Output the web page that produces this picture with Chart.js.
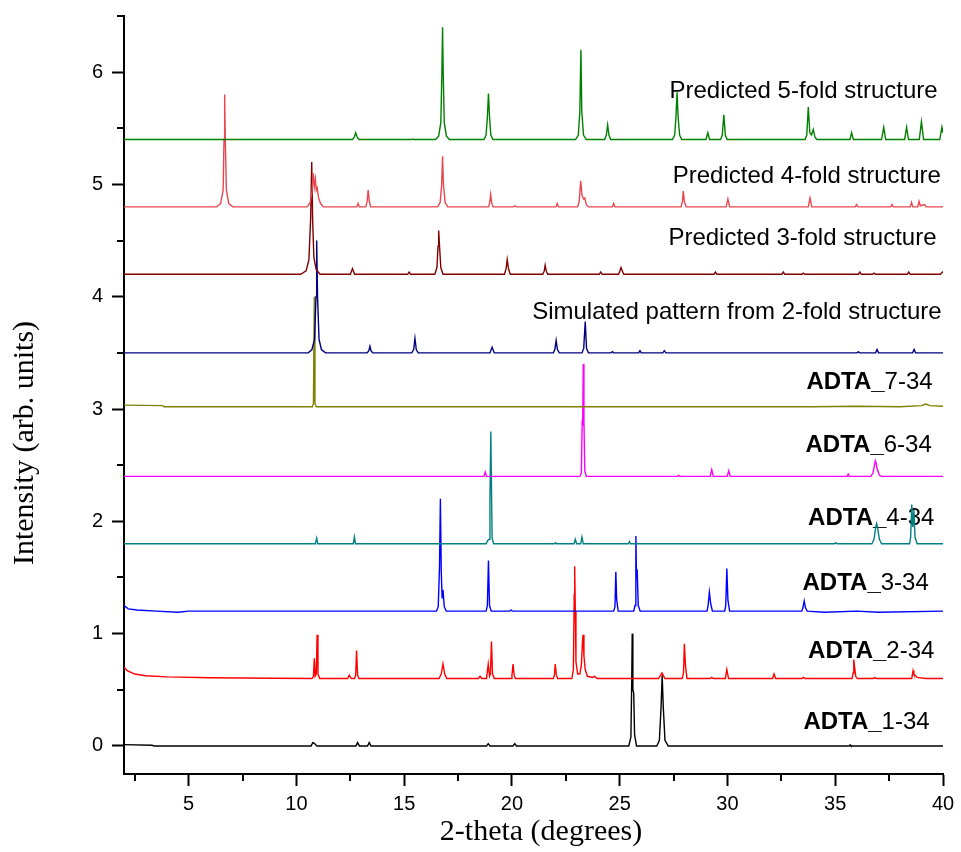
<!DOCTYPE html>
<html>
<head>
<meta charset="utf-8">
<script src="https://cdn.jsdelivr.net/npm/chart.js@4.4.1/dist/chart.umd.min.js"></script>
<style>
  html, body { margin: 0; padding: 0; background: #fff; }
  canvas { display: block; }
</style>
</head>
<body>
<canvas id="xrd" width="961" height="852"></canvas>
<script>
// XRD patterns, stacked with vertical offsets. Each trace is a list of [2-theta, intensity] vertices.
const adta1_34 = [[2,0.012],[3.3,0.006],[3.4,0],[10.68,0],[10.76,0.03],[10.82,0.025],[10.95,0],[12.76,0],[12.84,0.03],[12.92,0],[13.3,0],[13.38,0.03],[13.46,0],[18.82,0],[18.9,0.02],[18.98,0],[20.05,0],[20.13,0.02],[20.21,0],
  [25.42,0],[25.52,0.08],[25.56,0.6],[25.58,1.0],[25.61,0.5],[25.65,0.47],[25.69,0.1],[25.78,0],
  [26.72,0],[26.84,0.05],[26.92,0.35],[26.97,0.63],[27.02,0.35],[27.1,0.05],[27.25,0],[35.65,0],[35.69,0.01],[35.73,0],[40,0]];

const adta2_34 = [[2,0.7],[2.15,0.67],[2.5,0.64],[3,0.625],[4,0.615],[6,0.607],[9,0.603],
  [10.72,0.6],[10.79,0.62],[10.83,0.78],[10.87,0.62],[10.92,0.64],[10.96,0.99],[11.0,0.64],[11.08,0.6],
  [12.38,0.6],[12.45,0.63],[12.55,0.6],[12.7,0.6],[12.75,0.63],[12.79,0.85],[12.84,0.63],[12.9,0.6],
  [16.62,0.6],[16.72,0.64],[16.8,0.73],[16.88,0.64],[16.98,0.6],
  [18.45,0.6],[18.52,0.62],[18.6,0.6],[18.82,0.6],[18.9,0.73],[18.96,0.62],[19.0,0.64],[19.05,0.93],[19.1,0.64],[19.18,0.6],
  [19.96,0.6],[20.0,0.63],[20.05,0.73],[20.1,0.63],[20.16,0.6],
  [21.92,0.6],[21.97,0.63],[22.01,0.73],[22.06,0.63],[22.12,0.6],
  [22.78,0.6],[22.85,0.68],[22.89,1.35],[22.91,1.6],[22.94,1.2],[22.97,0.75],[23.05,0.64],
  [23.15,0.64],[23.22,0.72],[23.28,0.95],[23.3,0.99],[23.34,0.8],[23.4,0.68],[23.5,0.62],
  [23.75,0.61],[23.84,0.62],[23.95,0.6],[26.8,0.6],[26.96,0.65],[27.1,0.6],
  [27.9,0.6],[27.96,0.65],[28.0,0.91],[28.05,0.72],[28.12,0.6],[29.2,0.6],[29.27,0.61],[29.34,0.6],
  [29.9,0.6],[29.97,0.68],[30.05,0.6],[32.1,0.6],[32.16,0.64],[32.24,0.6],[33.45,0.6],[33.52,0.61],[33.6,0.6],
  [35.78,0.6],[35.83,0.65],[35.86,0.77],[35.9,0.7],[35.95,0.62],[36.02,0.6],[36.78,0.6],[36.83,0.61],[36.9,0.6],
  [38.55,0.6],[38.61,0.67],[38.65,0.64],[38.8,0.61],[39.2,0.6],[40,0.6]];

const adta3_34 = [[2,1.25],[2.2,1.22],[2.6,1.21],[3.5,1.2],[4.5,1.19],[5,1.2],
  [16.5,1.2],[16.58,1.24],[16.64,1.6],[16.68,2.2],[16.72,1.55],[16.76,1.32],[16.8,1.39],[16.86,1.24],[16.95,1.2],
  [18.8,1.2],[18.86,1.25],[18.91,1.65],[18.96,1.25],[19.04,1.2],[19.9,1.2],[19.96,1.21],[20.02,1.2],
  [24.72,1.2],[24.78,1.24],[24.82,1.55],[24.86,1.3],[24.93,1.2],
  [25.65,1.2],[25.71,1.25],[25.75,1.87],[25.78,1.5],[25.81,1.57],[25.86,1.25],[25.95,1.2],
  [29.05,1.2],[29.1,1.25],[29.16,1.37],[29.22,1.27],[29.3,1.2],
  [29.87,1.2],[29.92,1.25],[29.97,1.58],[30.02,1.3],[30.1,1.2],
  [33.45,1.2],[33.5,1.23],[33.56,1.29],[33.62,1.23],[33.7,1.2],[34.5,1.19],[36,1.2],[37,1.19],[40,1.2]];

const adta4_34 = [[2,1.8],[10.88,1.8],[10.94,1.85],[10.99,1.8],[12.64,1.8],[12.69,1.86],[12.74,1.8],
  [18.8,1.8],[18.88,1.83],[18.94,1.84],[18.98,2.2],[19.02,2.8],[19.05,2.3],[19.08,1.85],[19.15,1.8],
  [21.97,1.8],[22.02,1.81],[22.07,1.8],[22.88,1.8],[22.94,1.84],[23.0,1.8],[23.19,1.8],[23.25,1.86],[23.31,1.8],
  [25.4,1.8],[25.45,1.82],[25.5,1.8],[34.96,1.8],[35.02,1.81],[35.08,1.8],
  [36.7,1.8],[36.8,1.84],[36.88,1.95],[36.92,1.98],[36.96,1.95],[37.05,1.84],[37.15,1.8],
  [38.45,1.8],[38.5,1.86],[38.55,2.15],[38.6,1.95],[38.65,2.1],[38.7,1.86],[38.8,1.8],[40,1.8]];

const adta6_34 = [[2,2.4],[18.7,2.4],[18.76,2.44],[18.82,2.4],
  [23.15,2.4],[23.22,2.43],[23.26,2.9],[23.28,2.85],[23.31,3.4],[23.34,2.9],[23.38,2.45],[23.45,2.4],
  [27.68,2.4],[27.73,2.41],[27.78,2.4],[29.2,2.4],[29.27,2.46],[29.34,2.4],[29.99,2.4],[30.06,2.45],[30.13,2.4],
  [35.55,2.4],[35.6,2.42],[35.65,2.4],
  [36.65,2.4],[36.75,2.43],[36.82,2.5],[36.86,2.54],[36.9,2.52],[36.94,2.47],[37.05,2.41],[37.15,2.4],[40,2.4]];

const adta7_34 = [[2,3.035],[3.8,3.03],[3.86,3.02],
  [10.74,3.02],[10.79,3.05],[10.83,4.0],[10.86,3.05],[10.92,3.02],
  [34,3.02],[36,3.025],[38,3.02],[39.0,3.03],[39.2,3.045],[39.4,3.03],[40,3.025]];

const sim2fold = [[2,3.5],
  [10.55,3.5],[10.72,3.53],[10.84,3.62],[10.91,4.0],[10.94,4.5],[10.98,4.0],[11.05,3.62],[11.16,3.53],[11.35,3.5],
  [13.28,3.5],[13.36,3.52],[13.41,3.56],[13.46,3.52],[13.54,3.5],
  [15.35,3.5],[15.44,3.53],[15.5,3.63],[15.56,3.53],[15.65,3.5],
  [18.98,3.5],[19.08,3.55],[19.18,3.5],[21.92,3.5],[21.99,3.53],[22.05,3.61],[22.11,3.53],[22.2,3.5],
  [23.25,3.5],[23.33,3.54],[23.4,3.78],[23.46,3.54],[23.55,3.5],
  [24.6,3.5],[24.66,3.51],[24.72,3.5],[25.88,3.5],[25.94,3.52],[26.0,3.5],[27.0,3.5],[27.07,3.52],[27.14,3.5],
  [36.0,3.5],[36.07,3.51],[36.14,3.5],[36.87,3.5],[36.94,3.53],[37.01,3.5],[38.59,3.5],[38.66,3.53],[38.73,3.5],[40,3.5]];

const pred3fold = [[2,4.2],
  [10.2,4.2],[10.45,4.23],[10.58,4.33],[10.66,4.7],[10.71,5.2],[10.75,4.7],[10.81,4.35],[10.92,4.24],[11.1,4.2],
  [12.5,4.2],[12.6,4.25],[12.7,4.2],[15.16,4.2],[15.23,4.22],[15.3,4.2],
  [16.42,4.2],[16.52,4.26],[16.57,4.45],[16.6,4.59],[16.64,4.45],[16.7,4.26],[16.8,4.2],
  [19.65,4.2],[19.73,4.25],[19.78,4.33],[19.84,4.25],[19.92,4.2],
  [21.43,4.2],[21.5,4.23],[21.54,4.28],[21.59,4.23],[21.66,4.2],
  [24.05,4.2],[24.12,4.22],[24.19,4.2],[24.95,4.2],[25.01,4.23],[25.06,4.26],[25.12,4.23],[25.19,4.2],
  [29.37,4.2],[29.44,4.22],[29.51,4.2],[32.52,4.2],[32.59,4.22],[32.66,4.2],[33.45,4.2],[33.52,4.21],[33.59,4.2],
  [36.07,4.2],[36.14,4.22],[36.21,4.2],[36.73,4.2],[36.8,4.21],[36.87,4.2],[38.34,4.2],[38.41,4.22],[38.48,4.2],
  [39.88,4.2],[40,4.225]];

const pred4fold = [[2,4.8],
  [6.3,4.8],[6.48,4.83],[6.6,4.95],[6.64,5.4],[6.67,5.8],[6.7,5.4],[6.75,4.95],[6.86,4.83],[7.05,4.8],
  [10.5,4.8],[10.64,4.84],[10.73,4.95],[10.78,5.1],[10.83,4.98],[10.88,5.05],[10.92,4.95],[10.96,4.97],[11.03,4.88],[11.12,4.83],[11.25,4.8],
  [12.8,4.8],[12.86,4.83],[12.92,4.8],[13.22,4.8],[13.28,4.85],[13.33,4.95],[13.38,4.85],[13.45,4.8],
  [16.55,4.8],[16.67,4.84],[16.74,5.0],[16.78,5.25],[16.82,5.0],[16.9,4.84],[17.02,4.8],
  [18.92,4.8],[18.97,4.84],[19.01,4.91],[19.06,4.84],[19.12,4.8],[20.08,4.8],[20.14,4.81],[20.2,4.8],
  [22.04,4.8],[22.1,4.83],[22.16,4.8],
  [23.05,4.8],[23.12,4.85],[23.19,5.03],[23.25,4.9],[23.33,4.87],[23.38,4.88],[23.45,4.82],[23.55,4.8],
  [24.66,4.8],[24.72,4.83],[24.78,4.8],[27.85,4.8],[27.91,4.85],[27.95,4.94],[28.0,4.85],[28.08,4.8],
  [29.94,4.8],[30.02,4.87],[30.1,4.8],[33.75,4.8],[33.83,4.88],[33.91,4.8],
  [35.93,4.8],[35.99,4.82],[36.05,4.8],[37.58,4.8],[37.64,4.82],[37.7,4.8],[38.48,4.8],[38.54,4.84],[38.6,4.8],
  [38.83,4.8],[38.89,4.85],[38.95,4.81],[39.15,4.82],[39.22,4.8],[40,4.8]];

const pred5fold = [[2,5.4],
  [12.6,5.4],[12.68,5.42],[12.75,5.46],[12.82,5.42],[12.9,5.4],[15.35,5.4],[15.4,5.405],[15.45,5.4],
  [16.45,5.4],[16.6,5.43],[16.7,5.55],[16.75,6.0],[16.78,6.4],[16.81,6.0],[16.86,5.55],[16.96,5.43],[17.1,5.4],
  [18.7,5.4],[18.8,5.44],[18.86,5.6],[18.91,5.81],[18.96,5.6],[19.02,5.44],[19.12,5.4],
  [22.95,5.4],[23.08,5.44],[23.15,5.65],[23.2,6.2],[23.24,5.65],[23.32,5.44],[23.45,5.4],
  [24.3,5.4],[24.38,5.44],[24.44,5.53],[24.5,5.44],[24.58,5.4],
  [27.45,5.4],[27.55,5.44],[27.61,5.6],[27.66,5.82],[27.71,5.6],[27.78,5.44],[27.88,5.4],
  [29.0,5.4],[29.09,5.46],[29.17,5.4],[29.68,5.4],[29.76,5.44],[29.83,5.62],[29.9,5.44],[29.98,5.4],
  [33.6,5.4],[33.68,5.44],[33.75,5.69],[33.82,5.46],[33.9,5.44],[33.98,5.49],[34.06,5.42],[34.15,5.4],
  [35.68,5.4],[35.76,5.46],[35.84,5.4],[37.15,5.4],[37.25,5.51],[37.34,5.4],[38.22,5.4],[38.31,5.51],[38.4,5.4],
  [38.9,5.4],[39.0,5.56],[39.1,5.4],[39.85,5.4],[39.95,5.51],[40,5.46]];

const traceLabels = ['ADTA_1-34', 'ADTA_2-34', 'ADTA_3-34', 'ADTA_4-34', 'ADTA_6-34', 'ADTA_7-34',
  'Simulated pattern from 2-fold structure', 'Predicted 3-fold structure',
  'Predicted 4-fold structure', 'Predicted 5-fold structure'];
const traces = [adta1_34, adta2_34, adta3_34, adta4_34, adta6_34, adta7_34, sim2fold, pred3fold, pred4fold, pred5fold];
const traceColors = ['#000000', '#ff0000', '#0000ff', '#008080', '#ff00ff', '#808000', '#000080', '#800000', '#e8474f', '#008000'];

// where each label's right edge / vertical middle sits, in axis units
const labelAnchors = [[39.38, 0.21], [39.6, 0.84], [39.34, 1.45], [39.6, 2.03], [39.48, 2.68], [39.52, 3.24],
  [39.94, 3.86], [39.7, 4.52], [39.9, 5.07], [39.75, 5.83]];

const xMajor = [5, 10, 15, 20, 25, 30, 35, 40];
const xMinor = [2.5, 7.5, 12.5, 17.5, 22.5, 27.5, 32.5, 37.5];
const yMajor = [0, 1, 2, 3, 4, 5, 6];
const yMinor = [0.5, 1.5, 2.5, 3.5, 4.5, 5.5, 6.5];

const SANS = '"Liberation Sans", Arial, sans-serif';
const SERIF = '"Liberation Serif", "Times New Roman", serif';

const traceLabelPlugin = {
  id: 'traceLabels',
  beforeDatasetsDraw(chart) {
    const { ctx, scales: { x, y } } = chart;
    ctx.save();
    ctx.fillStyle = '#000';
    ctx.textBaseline = 'middle';
    ctx.textAlign = 'right';
    traceLabels.forEach((txt, i) => {
      const px = x.getPixelForValue(labelAnchors[i][0]);
      const py = y.getPixelForValue(labelAnchors[i][1]);
      if (txt.startsWith('ADTA_')) {
        const rest = txt.slice(5);
        ctx.font = '24px ' + SANS;
        ctx.fillText(rest, px, py);
        const w = ctx.measureText(rest).width;
        ctx.font = 'bold 24px ' + SANS;
        ctx.fillText('ADTA_', px - w, py);
      } else {
        ctx.font = '24px ' + SANS;
        ctx.fillText(txt, px, py);
      }
    });
    ctx.restore();
  }
};

const axisExtrasPlugin = {
  id: 'axisExtras',
  afterDraw(chart) {
    const { ctx, chartArea, scales: { x, y } } = chart;
    ctx.save();
    ctx.strokeStyle = '#000';
    ctx.lineWidth = 2;
    ctx.beginPath();
    xMinor.forEach(v => {
      const px = Math.round(x.getPixelForValue(v));
      ctx.moveTo(px, chartArea.bottom);
      ctx.lineTo(px, chartArea.bottom + 7);
    });
    yMinor.forEach(v => {
      const py = Math.round(y.getPixelForValue(v));
      ctx.moveTo(chartArea.left, py);
      ctx.lineTo(chartArea.left - 7, py);
    });
    ctx.stroke();

    // axis titles
    ctx.fillStyle = '#000';
    ctx.font = '30px ' + SERIF;
    ctx.textAlign = 'center';
    ctx.textBaseline = 'middle';
    ctx.fillText('2-theta (degrees)', 541, 832);
    ctx.translate(25, 443);
    ctx.rotate(-Math.PI / 2);
    ctx.fillText('Intensity (arb. units)', 0, 0);
    ctx.restore();
  }
};

new Chart(document.getElementById('xrd'), {
  type: 'line',
  data: {
    datasets: traces.map((pts, i) => ({
      label: traceLabels[i],
      data: pts.map(p => ({ x: p[0], y: p[1] })),
      borderColor: traceColors[i],
      borderWidth: 1.4,
      pointRadius: 0,
      tension: 0,
      fill: false
    })).reverse()
  },
  options: {
    responsive: false,
    animation: false,
    devicePixelRatio: 1,
    layout: { padding: { left: 0, right: 18, top: 16, bottom: 0 } },
    plugins: {
      legend: { display: false },
      tooltip: { enabled: false }
    },
    scales: {
      x: {
        type: 'linear',
        min: 2,
        max: 40,
        afterBuildTicks: s => { s.ticks = xMajor.map(v => ({ value: v })); },
        afterFit: s => { s.height = 78; s.paddingLeft = 0; s.paddingRight = 0; },
        border: { display: true, color: '#000', width: 2 },
        grid: { drawOnChartArea: false, drawTicks: true, tickLength: 12, tickWidth: 2, tickColor: '#000' },
        ticks: { color: '#000', font: { family: SANS, size: 20 }, padding: 6, maxRotation: 0 }
      },
      y: {
        type: 'linear',
        min: -0.25,
        max: 6.5,
        afterBuildTicks: s => { s.ticks = yMajor.map(v => ({ value: v })); },
        afterFit: s => { s.width = 124; s.paddingTop = 0; s.paddingBottom = 0; },
        border: { display: true, color: '#000', width: 2 },
        grid: { drawOnChartArea: false, drawTicks: true, tickLength: 12, tickWidth: 2, tickColor: '#000' },
        ticks: { color: '#000', font: { family: SANS, size: 20 }, padding: 9 }
      }
    }
  },
  plugins: [traceLabelPlugin, axisExtrasPlugin]
});
</script>
</body>
</html>
